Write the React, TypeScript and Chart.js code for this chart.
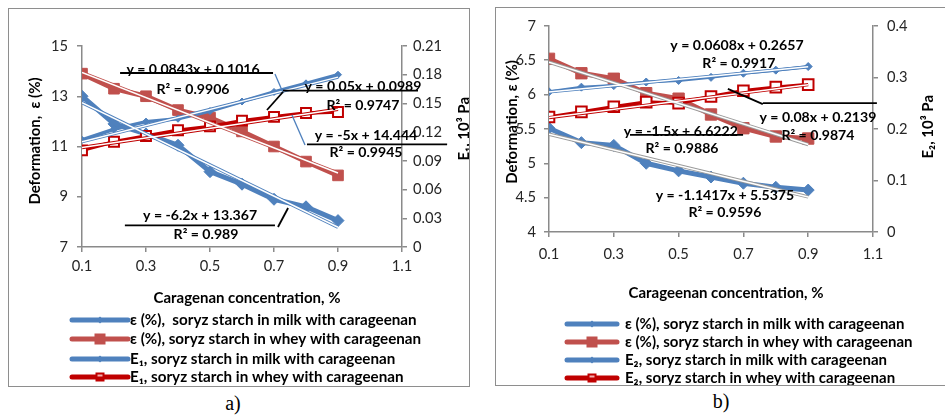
import React, { useEffect, useRef } from 'react';
import { Chart, registerables } from 'chart.js';

Chart.register(...registerables);

// ---------- data ----------
const concentrations = [0.1, 0.2, 0.3, 0.4, 0.5, 0.6, 0.7, 0.8, 0.9];
const trendRange = [0.1, 0.9];
const xTicks = [0.1, 0.3, 0.5, 0.7, 0.9, 1.1];

// panel a
const epsMilkA = [13.0, 11.9, 11.5, 11.05, 10.0, 9.5, 8.9, 8.6, 8.05];
const epsWheyA = [13.9, 13.3, 13.0, 12.45, 12.15, 11.6, 11.0, 10.4, 9.85];
const eMilkA = [0.112, 0.123, 0.131, 0.134, 0.142, 0.152, 0.162, 0.171, 0.18];
const eWheyA = [0.101, 0.11, 0.116, 0.122, 0.126, 0.132, 0.136, 0.14, 0.141];
const slopesA = [-6.2, -5, 0.0843, 0.05];
const interceptsA = [13.367, 14.444, 0.1016, 0.0989];
const eqTextsA = ['y = -6.2x + 13.367', 'y = -5x + 14.444', 'y = 0.0843x + 0.1016', 'y = 0.05x + 0.0989'];
const r2TextsA = ['R² = 0.989', 'R² = 0.9945', 'R² = 0.9906', 'R² = 0.9747'];
const legendA = [
  'ε (%),  soryz starch in milk with carageenan',
  'ε (%), soryz starch in whey with carageenan',
  'E₁, soryz starch in milk with carageenan',
  'E₁, soryz starch in whey with carageenan',
];

// panel b
const epsMilkB = [5.51, 5.3, 5.26, 5.0, 4.89, 4.8, 4.71, 4.65, 4.61];
const epsWheyB = [6.52, 6.31, 6.23, 6.02, 5.94, 5.71, 5.51, 5.39, 5.36];
const eMilkB = [0.272, 0.281, 0.284, 0.291, 0.294, 0.3, 0.308, 0.314, 0.321];
const eWheyB = [0.223, 0.233, 0.243, 0.252, 0.25, 0.263, 0.274, 0.281, 0.286];
const slopesB = [-1.1417, -1.5, 0.0608, 0.08];
const interceptsB = [5.5375, 6.6222, 0.2657, 0.2139];
const eqTextsB = ['y = -1.1417x + 5.5375', 'y = -1.5x + 6.6222', 'y = 0.0608x + 0.2657', 'y = 0.08x + 0.2139'];
const r2TextsB = ['R² = 0.9596', 'R² = 0.9886', 'R² = 0.9917', 'R² = 0.9874'];
const legendB = [
  'ε (%), soryz starch in milk with carageenan',
  'ε (%), soryz starch in whey with carageenan',
  'E₂, soryz starch in milk with carageenan',
  'E₂, soryz starch in whey with carageenan',
];

// ---------- styles ----------
const BLUE = '#4F81BD';
const RED = '#C0504D';
const DARKRED = '#C00000';
const AXIS = '#8a8a8a';
const TICK = '#262626';
const FONT = 'Lato, "DejaVu Sans", sans-serif';

// font size that makes `text` take `target` px
function fitSize(text: string, bold: boolean, target: number): number {
  const c = document.createElement('canvas').getContext('2d')!;
  c.font = `${bold ? 'bold ' : ''}100px ${FONT}`;
  const w = c.measureText(text).width || 1;
  return Math.round((100 * target) / w * 10) / 10;
}

type Ann = {
  eq: [number, number];
  r2: [number, number];
  lines: [number, number, number, number, string][];
};

// annotation positions in data units (x: concentration, y: left axis)
const annA: Ann[] = [
  { eq: [0.469, 8.274], r2: [0.4875, 7.517], lines: [[0.234, 7.864, 0.703, 7.864, '#000'], [0.7125, 7.796, 0.744, 8.552, '#000']] },
  { eq: [0.9875, 11.458], r2: [0.9875, 10.781], lines: [[0.803, 11.088, 1.241, 11.088, '#000'], [0.756, 12.254, 0.797, 11.06, BLUE]] },
  { eq: [0.447, 14.085], r2: [0.447, 13.269], lines: [[0.219, 13.925, 0.697, 13.925, '#000'], [0.703, 13.886, 0.729, 13.118, BLUE]] },
  { eq: [0.978, 13.408], r2: [0.978, 12.652], lines: [[0.728, 13.221, 1.15, 13.221, '#000'], [0.728, 13.169, 0.678, 12.453, '#000']] },
];
const annB: Ann[] = [
  { eq: [0.643, 4.535], r2: [0.643, 4.283], lines: [] },
  { eq: [0.507, 5.469], r2: [0.5105, 5.218], lines: [[0.35, 5.414, 0.699, 5.414, '#000']] },
  { eq: [0.68, 6.711], r2: [0.686, 6.446], lines: [] },
  { eq: [0.93, 5.665], r2: [0.93, 5.4], lines: [[0.76, 5.874, 1.112, 5.874, '#000'], [0.76, 5.86, 0.652, 6.083, '#000']] },
];

type PanelSpec = {
  w: number; h: number;
  series: number[][];
  slopes: number[]; intercepts: number[];
  eqTexts: string[]; r2Texts: string[];
  legend: string[]; legendWidth: number;
  ann: Ann[];
  yMin: number; yMax: number; yStep: number;
  y1Min: number; y1Max: number; y1Step: number;
  y1Fmt: (v: number) => string; yFmt: (v: number) => string;
  top: number; yW: number; y1W: number; xH: number;
  xPad: number; yPad: number; y1Pad: number;
  lw: number[]; pr: number[];
  trendEdge: string[];
  leftTitle: string; leftTitlePos: [number, number];
  rightTitle: string; rightTitlePos: [number, number];
  xTitle: string; xTitlePos: [number, number];
  legendY: number[]; legendX: [number, number, number];
};

const specA: PanelSpec = {
  w: 460, h: 377,
  series: [epsMilkA, epsWheyA, eMilkA, eWheyA],
  slopes: slopesA, intercepts: interceptsA,
  eqTexts: eqTextsA, r2Texts: r2TextsA, legend: legendA, legendWidth: 287, ann: annA,
  yMin: 7, yMax: 15, yStep: 2,
  y1Min: 0, y1Max: 0.21, y1Step: 0.03,
  y1Fmt: (v) => (Math.abs(v) < 1e-9 ? '0' : v.toFixed(2)),
  yFmt: (v) => String(Math.round(v)),
  top: 37, yW: 73, y1W: 67, xH: 139,
  xPad: 5, yPad: 9, y1Pad: 6,
  lw: [5, 5, 3.5, 3.5], pr: [6, 7.5, 3.5, 7],
  trendEdge: [BLUE, RED, BLUE, DARKRED],
  leftTitle: 'Deformation,  ε (%)', leftTitlePos: [26, 132],
  rightTitle: 'E₁, 10³ Pa', rightTitlePos: [455, 88],
  xTitle: 'Caragenan concentration, %', xTitlePos: [238, 289],
  legendY: [311, 330, 350, 368], legendX: [63, 119, 121],
};

const specB: PanelSpec = {
  w: 449, h: 377,
  series: [epsMilkB, epsWheyB, eMilkB, eWheyB],
  slopes: slopesB, intercepts: interceptsB,
  eqTexts: eqTextsB, r2Texts: r2TextsB, legend: legendB, legendWidth: 280, ann: annB,
  yMin: 4, yMax: 7, yStep: 0.5,
  y1Min: 0, y1Max: 0.4, y1Step: 0.1,
  y1Fmt: (v) => (Math.abs(v) < 1e-9 ? '0' : v.toFixed(1)),
  yFmt: (v) => String(Math.round(v * 10) / 10),
  top: 9, yW: 53, y1W: 72, xH: 153,
  xPad: 8, yPad: 8, y1Pad: 9,
  lw: [5, 5, 3, 3.5], pr: [6, 8, 4, 7.5],
  trendEdge: ['#9a9a9a', '#9a9a9a', BLUE, DARKRED],
  leftTitle: 'Deformation, ε (%)', leftTitlePos: [16, 114],
  rightTitle: 'E₂, 10³ Pa', rightTitlePos: [432, 87],
  xTitle: 'Carageenan concentration, %', xTitlePos: [230, 285],
  legendY: [316, 334, 352, 370], legendX: [71, 121, 129],
};

function drawMarker(ctx: CanvasRenderingContext2D, kind: number, x: number, y: number, s: number) {
  ctx.save();
  if (kind === 0 || kind === 2) {
    ctx.fillStyle = BLUE;
    ctx.beginPath();
    ctx.moveTo(x, y - s);
    ctx.lineTo(x + s, y);
    ctx.lineTo(x, y + s);
    ctx.lineTo(x - s, y);
    ctx.closePath();
    ctx.fill();
  } else if (kind === 1) {
    ctx.fillStyle = RED;
    ctx.fillRect(x - s, y - s, 2 * s, 2 * s);
  } else {
    ctx.fillStyle = DARKRED;
    ctx.fillRect(x - s, y - s, 2 * s, 2 * s);
    ctx.fillStyle = '#f3b0b0';
    ctx.fillRect(x - s + 2, y - s + 2, 2 * s - 4, 2);
  }
  ctx.restore();
}

function makeDecor(p: PanelSpec, sizes: { eq: number; title: number; legend: number }) {
  return {
    id: 'decor',
    afterDraw(chart: any) {
      const ctx: CanvasRenderingContext2D = chart.ctx;
      const sx = chart.scales.x;
      const sy = chart.scales.y;
      ctx.save();
      // trendline labels
      ctx.fillStyle = '#000';
      ctx.textAlign = 'center';
      ctx.textBaseline = 'middle';
      ctx.font = `bold ${sizes.eq}px ${FONT}`;
      p.ann.forEach((a, k) => {
        a.lines.forEach(([x1, y1, x2, y2, c]) => {
          ctx.strokeStyle = c;
          ctx.lineWidth = c === '#000' ? 1.8 : 1.3;
          ctx.beginPath();
          ctx.moveTo(sx.getPixelForValue(x1), sy.getPixelForValue(y1));
          ctx.lineTo(sx.getPixelForValue(x2), sy.getPixelForValue(y2));
          ctx.stroke();
        });
        ctx.fillText(p.eqTexts[k], sx.getPixelForValue(a.eq[0]), sy.getPixelForValue(a.eq[1]));
        ctx.fillText(p.r2Texts[k], sx.getPixelForValue(a.r2[0]), sy.getPixelForValue(a.r2[1]));
      });
      // axis titles
      ctx.font = `bold ${sizes.title}px ${FONT}`;
      ctx.fillText(p.xTitle, p.xTitlePos[0], p.xTitlePos[1]);
      ctx.save();
      ctx.translate(p.leftTitlePos[0], p.leftTitlePos[1]);
      ctx.rotate(-Math.PI / 2);
      ctx.fillText(p.leftTitle, 0, 0);
      ctx.restore();
      ctx.save();
      ctx.translate(p.rightTitlePos[0], p.rightTitlePos[1]);
      ctx.rotate(-Math.PI / 2);
      ctx.textAlign = 'right';
      ctx.fillText(p.rightTitle, 0, 0);
      ctx.restore();
      // legend
      const colors = [BLUE, RED, BLUE, DARKRED];
      const msize = [3.5, 5.5, 3.5, 4.5];
      p.legend.forEach((t, i) => {
        const y = p.legendY[i];
        ctx.strokeStyle = colors[i];
        ctx.lineWidth = 5;
        ctx.lineCap = 'round';
        ctx.beginPath();
        ctx.moveTo(p.legendX[0], y);
        ctx.lineTo(p.legendX[1], y);
        ctx.stroke();
        drawMarker(ctx, i, (p.legendX[0] + p.legendX[1]) / 2, y, msize[i]);
        ctx.fillStyle = '#000';
        ctx.textAlign = 'left';
        ctx.font = `bold ${sizes.legend}px ${FONT}`;
        ctx.fillText(t, p.legendX[2], y + 0.5);
      });
      ctx.restore();
    },
  };
}

function buildConfig(p: PanelSpec): any {
  const sizes = {
    eq: fitSize('y = 0.0843x + 0.1016', true, 133),
    title: fitSize('Caragenan concentration, %', true, 187),
    legend: fitSize(p.legend[0], true, p.legendWidth),
  };
  const tickSize = fitSize('0.21', false, 29);
  const pts = (arr: number[]) => concentrations.map((x, i) => ({ x, y: arr[i] }));
  const styles = [
    { c: BLUE, bg: BLUE, ps: 'rectRot', bw: 1 },
    { c: RED, bg: RED, ps: 'rect', bw: 1 },
    { c: BLUE, bg: BLUE, ps: 'rectRot', bw: 1 },
    { c: DARKRED, bg: '#ffffff', ps: 'rect', bw: 2 },
  ];
  const axes = ['y', 'y', 'y1', 'y1'];
  const series = p.series.map((arr, i) => ({
    label: p.legend[i],
    data: pts(arr),
    yAxisID: axes[i],
    borderColor: styles[i].c,
    borderWidth: p.lw[i],
    pointStyle: styles[i].ps,
    pointRadius: p.pr[i],
    pointBackgroundColor: styles[i].bg,
    pointBorderColor: styles[i].c,
    pointBorderWidth: styles[i].bw,
    tension: 0,
    order: 20 - i,
  }));
  const trends: any[] = [];
  p.slopes.forEach((m, k) => {
    const data = trendRange.map((x) => ({ x, y: m * x + p.intercepts[k] }));
    trends.push({ data, yAxisID: axes[k], borderColor: p.trendEdge[k], borderWidth: 3.4, pointRadius: 0, order: 5 });
    trends.push({ data, yAxisID: axes[k], borderColor: '#ffffff', borderWidth: 1.5, pointRadius: 0, order: 2 });
  });
  const tickFont = { family: FONT, size: tickSize };
  const grid = { drawOnChartArea: false, drawTicks: true, tickLength: 5, color: AXIS, lineWidth: 1.5 };
  const border = { color: AXIS, width: 1.5 };
  return {
    type: 'line',
    data: { datasets: [...series, ...trends] },
    options: {
      responsive: false,
      maintainAspectRatio: false,
      animation: false,
      devicePixelRatio: 1,
      events: [],
      layout: { padding: { top: p.top, left: 0, right: 0, bottom: 0 } },
      plugins: { legend: { display: false }, tooltip: { enabled: false }, title: { display: false } },
      scales: {
        x: {
          type: 'linear', min: 0.1, max: 1.1,
          afterBuildTicks: (s: any) => { s.ticks = xTicks.map((v) => ({ value: v })); },
          ticks: { font: tickFont, color: TICK, padding: p.xPad, maxRotation: 0, callback: (v: number) => v.toFixed(1) },
          grid, border,
          afterFit: (s: any) => { s.height = p.xH; },
        },
        y: {
          type: 'linear', position: 'left', min: p.yMin, max: p.yMax,
          ticks: { stepSize: p.yStep, font: tickFont, color: TICK, padding: p.yPad, callback: (v: number) => p.yFmt(v) },
          grid, border,
          afterFit: (s: any) => { s.width = p.yW; },
        },
        y1: {
          type: 'linear', position: 'right', min: p.y1Min, max: p.y1Max,
          ticks: { stepSize: p.y1Step, font: tickFont, color: TICK, padding: p.y1Pad, callback: (v: number) => p.y1Fmt(v) },
          grid, border,
          afterFit: (s: any) => { s.width = p.y1W; },
        },
      },
    },
    plugins: [makeDecor(p, sizes)],
  };
}

function Panel({ spec, left, top }: { spec: PanelSpec; left: number; top: number }) {
  const ref = useRef<HTMLCanvasElement | null>(null);
  useEffect(() => {
    if (!ref.current) return;
    const chart = new Chart(ref.current, buildConfig(spec));
    return () => chart.destroy();
  }, [spec]);
  return (
    <canvas
      ref={ref}
      width={spec.w}
      height={spec.h}
      style={{ position: 'absolute', left, top, width: spec.w, height: spec.h }}
    />
  );
}

export default function App() {
  return (
    <div style={{ position: 'fixed', left: 0, top: 0, width: 945, height: 415, background: '#fff', overflow: 'hidden' }}>
      <div style={{ position: 'absolute', left: 8, top: 8, width: 462, height: 379, boxSizing: 'border-box', border: '1px solid #8e8e8e' }} />
      <div style={{ position: 'absolute', left: 495, top: 7, width: 470, height: 379, boxSizing: 'border-box', border: '1px solid #8e8e8e' }} />
      <Panel spec={specA} left={9} top={9} />
      <Panel spec={specB} left={496} top={8} />
      <div style={{ position: 'absolute', left: 203, top: 390, width: 60, textAlign: 'center', fontFamily: '"Liberation Serif", serif', fontSize: 20, lineHeight: '26px' }}>a)</div>
      <div style={{ position: 'absolute', left: 691, top: 388, width: 60, textAlign: 'center', fontFamily: '"Liberation Serif", serif', fontSize: 20, lineHeight: '26px' }}>b)</div>
    </div>
  );
}
